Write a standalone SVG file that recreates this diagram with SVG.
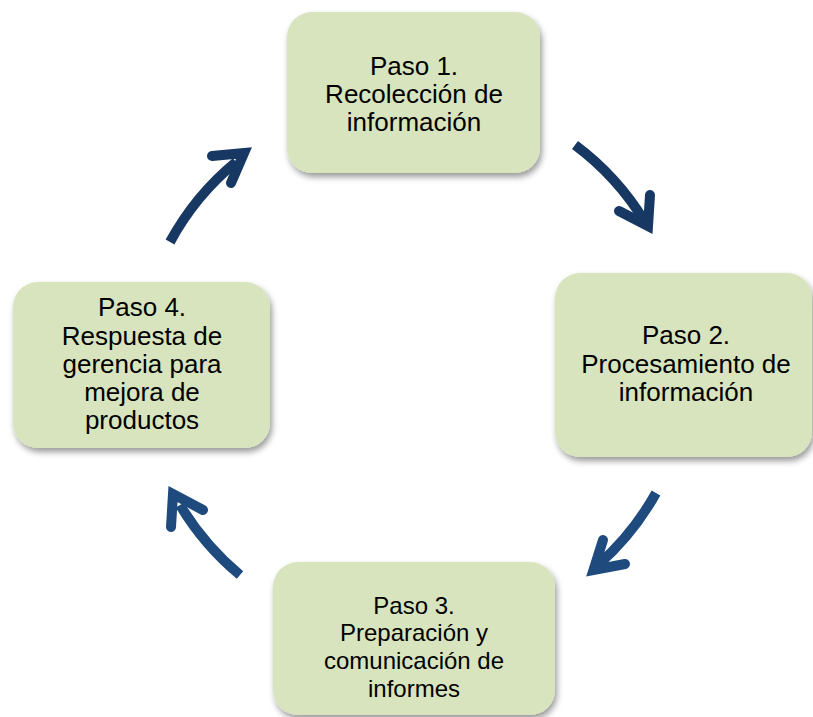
<svg xmlns="http://www.w3.org/2000/svg" width="813" height="717" viewBox="0 0 813 717">
<defs>
<filter id="sh" x="-10%" y="-10%" width="125%" height="130%">
<feDropShadow dx="2" dy="4" stdDeviation="3" flood-color="#000" flood-opacity="0.4"/>
</filter>
<style>
.box{fill:#D7E4BD;filter:url(#sh)}
.t{font-family:"Liberation Sans",Arial,sans-serif;font-size:26px;fill:#000;text-anchor:middle}
.t3{font-size:24px}
.shaft{fill:none;stroke-width:10;stroke-linecap:butt}
.head{fill:none;stroke-width:10;stroke-linecap:round;stroke-linejoin:miter;stroke-miterlimit:6}
.d{stroke:#173862}
.l{stroke:#1F4A7D}
</style>
</defs>
<rect width="813" height="717" fill="#fff"/>
<g id="connectors">
<g id="arrow1">
<path class="shaft d" d="M575,145 A272,272 0 0 1 645,222"/>
<path class="head d" d="M650,195 L648,226 L619,211"/>
</g>
<g id="arrow2">
<path class="shaft l" d="M656,493 A274,274 0 0 1 598,565"/>
<path class="head l" d="M603,540 L593.5,570 L625,564"/>
</g>
<g id="arrow3">
<path class="shaft l" d="M240,575 A274,274 0 0 1 180,505"/>
<path class="head l" d="M171,527 L173,494 L203,510"/>
</g>
<g id="arrow4">
<path class="shaft d" d="M170,242 A270,270 0 0 1 236,162"/>
<path class="head d" d="M212,156 L244,153 L231,183"/>
</g>
</g>
<g id="node1">
<rect class="box" x="287" y="12" width="253" height="161" rx="25"/>
<text class="t" x="414" y="75">Paso 1.</text>
<text class="t" x="414" y="103">Recolección de</text>
<text class="t" x="414" y="131">información</text>
</g>
<g id="node2">
<rect class="box" x="555" y="273" width="257" height="184" rx="25"/>
<text class="t" x="686" y="344">Paso 2.</text>
<text class="t" x="686" y="373">Procesamiento de</text>
<text class="t" x="686" y="401">información</text>
</g>
<g id="node3">
<rect class="box" x="273" y="562" width="282" height="153" rx="25"/>
<text class="t t3" x="414" y="614">Paso 3.</text>
<text class="t t3" x="414" y="641">Preparación y</text>
<text class="t t3" x="414" y="669">comunicación de</text>
<text class="t t3" x="414" y="697">informes</text>
</g>
<g id="node4">
<rect class="box" x="13" y="282" width="257" height="166" rx="25"/>
<text class="t" x="142" y="316">Paso 4.</text>
<text class="t" x="142" y="345">Respuesta de</text>
<text class="t" x="142" y="373">gerencia para</text>
<text class="t" x="142" y="401">mejora de</text>
<text class="t" x="142" y="429">productos</text>
</g>
</svg>
